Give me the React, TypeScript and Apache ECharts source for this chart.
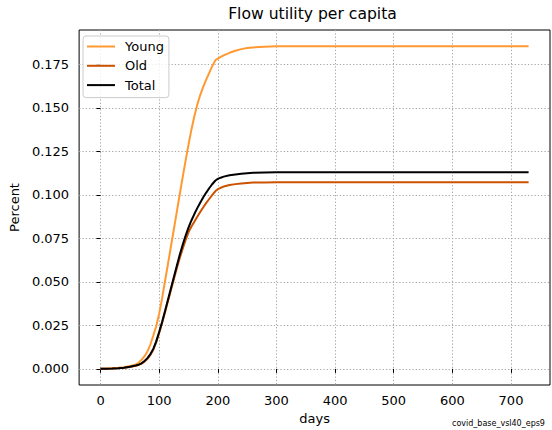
import React, { useEffect, useRef } from "react";
import * as echarts from "echarts";

// Simulation days at which the curves are sampled
const days = [
  0, 10, 20, 30, 40, 50, 60, 65, 70, 75, 80, 85, 90, 95, 100, 105, 110, 115,
  120, 125, 130, 135, 140, 145, 150, 155, 160, 165, 170, 175, 180, 185, 190,
  196, 200, 205, 210, 220, 230, 240, 250, 260, 280, 300, 350, 400, 450, 500,
  550, 600, 650, 700, 730,
];

// Flow utility per capita, by group
const young = [
  0, 0.0001, 0.0003, 0.0006, 0.001, 0.0016, 0.0026, 0.0035, 0.0052, 0.0073,
  0.0100, 0.0140, 0.0192, 0.0245, 0.0317, 0.0405, 0.0505, 0.0603, 0.0702,
  0.0801, 0.0901, 0.1001, 0.1100, 0.1196, 0.1288, 0.1375, 0.1452, 0.1518,
  0.1574, 0.1620, 0.1661, 0.1699, 0.1736, 0.1775, 0.1783, 0.1793, 0.1802,
  0.1817, 0.1829, 0.1838, 0.1844, 0.1848, 0.1852, 0.1854, 0.1855, 0.1855,
  0.1855, 0.1855, 0.1855, 0.1855, 0.1855, 0.1855, 0.1855,
];
const old = [
  0, 0.0001, 0.0002, 0.0004, 0.0007, 0.0011, 0.0018, 0.0023, 0.0030, 0.0042,
  0.0058, 0.0080, 0.0110, 0.0153, 0.0206, 0.0264, 0.0326, 0.0389, 0.0452,
  0.0515, 0.0577, 0.0636, 0.0690, 0.0740, 0.0785, 0.0818, 0.0846, 0.0874,
  0.0902, 0.0928, 0.0953, 0.0975, 0.0997, 0.1022, 0.1033, 0.1041, 0.1048,
  0.1057, 0.1062, 0.1066, 0.1069, 0.1071, 0.1072, 0.1073, 0.1073, 0.1073,
  0.1073, 0.1073, 0.1073, 0.1073, 0.1073, 0.1073, 0.1073,
];
const total = [
  0, 0.0001, 0.0002, 0.0004, 0.0007, 0.0012, 0.0019, 0.0024, 0.0032, 0.0045,
  0.0062, 0.0085, 0.0115, 0.0158, 0.0212, 0.0270, 0.0333, 0.0397, 0.0462,
  0.0527, 0.0591, 0.0654, 0.0712, 0.0765, 0.0812, 0.0853, 0.0890, 0.0924,
  0.0955, 0.0985, 0.1012, 0.1037, 0.1060, 0.1083, 0.1092, 0.1099, 0.1105,
  0.1113, 0.1118, 0.1122, 0.1125, 0.1127, 0.1129, 0.1130, 0.1131, 0.1131,
  0.1131, 0.1131, 0.1131, 0.1131, 0.1131, 0.1131, 0.1131,
];

const xTicks = [0, 100, 200, 300, 400, 500, 600, 700];
const yTicks = [0, 0.025, 0.05, 0.075, 0.1, 0.125, 0.15, 0.175];

const FONT = "DejaVu Sans";

const pairs = (vals: number[]) => days.map((d, i) => [d, vals[i]]);

export default function App() {
  const ref = useRef<HTMLDivElement>(null);

  useEffect(() => {
    document.body.style.margin = "0";
    if (!ref.current) return;
    const chart = echarts.init(ref.current, undefined, { renderer: "svg" });

    const gridLine = {
      show: true,
      lineStyle: { color: "#a8a8a8", width: 1, type: [1.3, 2] as any },
    };
    const tick = {
      show: true,
      inside: false,
      length: 4,
      lineStyle: { color: "#000", width: 1 },
    };

    chart.setOption({
      animation: false,
      backgroundColor: "#fff",
      textStyle: { fontFamily: FONT },
      title: {
        text: "Flow utility per capita",
        left: 307.5,
        top: 1,
        textAlign: "center",
        textStyle: {
          fontFamily: FONT,
          fontSize: 15.6,
          fontWeight: "normal",
          color: "#000",
        },
      },
      grid: {
        left: 75,
        right: 2,
        top: 30,
        bottom: 45,
        show: true,
        borderColor: "#000",
        borderWidth: 1,
        backgroundColor: "transparent",
      },
      legend: {
        orient: "vertical",
        left: 83,
        top: 36,
        padding: [4, 5, 6, 4],
        icon: "rect",
        itemWidth: 28,
        itemHeight: 2,
        itemGap: 6.3,
        backgroundColor: "rgba(255,255,255,0.8)",
        borderColor: "#cccccc",
        borderWidth: 1,
        borderRadius: 3,
        textStyle: {
          fontFamily: FONT,
          fontSize: 13,
          color: "#000",
          padding: [0, 0, 0, 5],
        },
        data: ["Young", "Old", "Total"],
      },
      xAxis: {
        type: "value",
        min: -36.5,
        max: 766.5,
        name: "days",
        nameLocation: "middle",
        nameGap: 27,
        nameTextStyle: { fontFamily: FONT, fontSize: 13, color: "#000" },
        axisLine: { show: false },
        axisTick: { ...tick, customValues: xTicks },
        axisLabel: {
          customValues: xTicks,
          fontFamily: FONT,
          fontSize: 13,
          color: "#000",
          margin: 9,
        },
        splitLine: gridLine,
      },
      yAxis: {
        type: "value",
        min: -0.00927,
        max: 0.1948,
        name: "Percent",
        nameLocation: "middle",
        nameGap: 52,
        nameTextStyle: { fontFamily: FONT, fontSize: 13, color: "#000" },
        axisLine: { show: false },
        axisTick: { ...tick, customValues: yTicks },
        axisLabel: {
          customValues: yTicks,
          fontFamily: FONT,
          fontSize: 13,
          color: "#000",
          margin: 10,
          formatter: (v: number) => v.toFixed(3),
        },
        splitLine: gridLine,
      },
      series: [
        {
          name: "Young",
          type: "line",
          data: pairs(young),
          symbol: "none",
          showSymbol: false,
          lineStyle: { color: "#ff9a33", width: 2 },
          itemStyle: { color: "#ff9a33" },
        },
        {
          name: "Old",
          type: "line",
          data: pairs(old),
          symbol: "none",
          showSymbol: false,
          lineStyle: { color: "#cc5200", width: 2 },
          itemStyle: { color: "#cc5200" },
        },
        {
          name: "Total",
          type: "line",
          data: pairs(total),
          symbol: "none",
          showSymbol: false,
          lineStyle: { color: "#000", width: 2 },
          itemStyle: { color: "#000" },
        },
      ],
      graphic: [
        {
          type: "text",
          left: 452,
          top: 419,
          style: {
            text: "covid_base_vsl40_eps9",
            font: `8px "${FONT}"`,
            fill: "#000",
          },
        },
      ],
    });

    return () => chart.dispose();
  }, []);

  return <div ref={ref} style={{ width: 552, height: 430 }} />;
}
